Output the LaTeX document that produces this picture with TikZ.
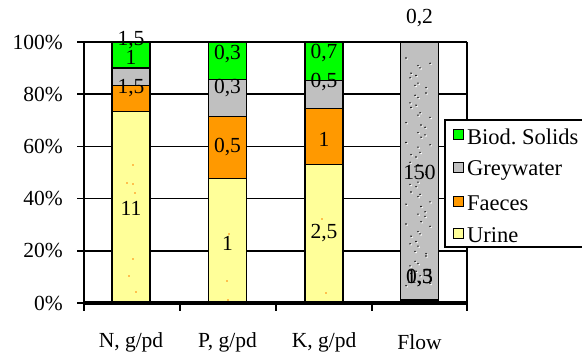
\documentclass[tikz,border=0pt]{standalone}
\usepackage{fontspec}
\setmainfont{Liberation Serif}
\definecolor{biod}{HTML}{00FF00}
\definecolor{grey}{HTML}{C0C0C0}
\definecolor{faec}{HTML}{FF9900}
\definecolor{urin}{HTML}{FFFF99}
\newcommand\chartseg[4]{\filldraw[fill=#4,draw=black,line width=1.2pt] ({#1-19},{303-2.61*#2}) rectangle ({#1+19},{303-2.61*#3});}
\begin{document}
\begin{tikzpicture}[x=1pt,y=-1pt,
  lab/.style={font=\fontsize{21.5}{21.5}\selectfont, inner sep=0pt},
  leg/.style={font=\fontsize{22.5}{22.5}\selectfont, inner sep=0pt, anchor=west},
  gridline/.style={line width=1.5pt},
  legbox/.style={draw=black, line width=1pt, minimum size=10pt, inner sep=0pt}]
\useasboundingbox (0,0) rectangle (582,353);
\clip (0,0) rectangle (582,353);
% gridlines and y labels
\foreach \p/\t in {0/0\%,20/20\%,40/40\%,60/60\%,80/80\%,100/100\%}{
  \draw[gridline] (77,{303-2.61*\p}) -- (467,{303-2.61*\p});
  \node[lab,anchor=east] (y\p) at (63,{303-2.61*\p}) {\t};
}
% frame
\draw[gridline] (84,42) -- (84,311);
\draw[gridline] (467,42) -- (467,311);
\foreach \x in {180,276,372}{\draw[gridline] (\x,303) -- (\x,311);}
% bars
\chartseg{131}{0}{73.33}{urin}
\chartseg{131}{73.33}{83.33}{faec}
\chartseg{131}{83.33}{90}{grey}
\chartseg{131}{90}{100}{biod}
\chartseg{227.5}{0}{47.62}{urin}
\chartseg{227.5}{47.62}{71.43}{faec}
\chartseg{227.5}{71.43}{85.71}{grey}
\chartseg{227.5}{85.71}{100}{biod}
\chartseg{324}{0}{53.19}{urin}
\chartseg{324}{53.19}{74.47}{faec}
\chartseg{324}{74.47}{85.11}{grey}
\chartseg{324}{85.11}{100}{biod}
\chartseg{419.5}{1.18}{99.87}{grey}
\chartseg{419.5}{0}{0.99}{urin}
\chartseg{419.5}{0.99}{1.18}{faec}
\chartseg{419.5}{99.87}{100}{biod}
% urine dots
\foreach \x/\y in {133/165,133/184,127/183,135/193,133/259,129/276,136/292,229/234,227/281,228/300,322/219,326/293}{
  \fill[orange] (\x,\y) circle (0.8);
}
% flow dots
\foreach \i in {0,...,69}{
  \pgfmathsetmacro\dx{406+mod(\i*17+mod(\i*\i,25)*7,25)}
  \pgfmathsetmacro\dy{58+\i*3.3+mod(\i*5,3)}
  \fill[white] (\dx+1,\dy+1) circle (0.9);
  \fill[black] (\dx,\dy) circle (0.8);
}
% axis
\draw[line width=3.5pt] (84,303) -- (467,303);
% legend
\draw[fill=white, line width=1.2pt] (445,120) rectangle (600,247);
\node[legbox,fill=biod] (lb) at (458,135) {};
\node[legbox,fill=grey] (lg) at (458,168) {};
\node[legbox,fill=faec] (lf) at (458,201) {};
\node[legbox,fill=urin] (lu) at (458,233) {};
\node[leg] (tb) at (467,137) {Biod.\ Solids};
\node[leg] (tg) at (467,170) {Greywater};
\node[leg] (tf) at (467,203) {Faeces};
\node[leg] (tu) at (467,235) {Urine};
% bar labels
\node[lab] (n1) at (131,40) {1,5};
\node[lab] (n2) at (131,57) {1};
\node[lab] (n3) at (131,88) {1,5};
\node[lab] (n4) at (131,208) {11};
\node[lab] (p1) at (227.5,54) {0,3};
\node[lab] (p2) at (227.5,88) {0,3};
\node[lab] (p3) at (227.5,147) {0,5};
\node[lab] (p4) at (227.5,243) {1};
\node[lab] (k1) at (324,53) {0,7};
\node[lab] (k2) at (324,82) {0,5};
\node[lab] (k3) at (324,139) {1};
\node[lab] (k4) at (324,233) {2,5};
\node[lab] (f1) at (419.5,18) {0,2};
\node[lab] (f2) at (419.5,172) {150};
\node[lab] (f3) at (419.5,278) {0,3};
\node[lab] (f4) at (419.5,278) {1,5};
% category labels
\node[lab] (cn) at (131,342) {N, g/pd};
\node[lab] (cp) at (227.5,342) {P, g/pd};
\node[lab] (ck) at (324,342) {K, g/pd};
\node[lab] (cf) at (419.5,342) {Flow};
\end{tikzpicture}
\end{document}
